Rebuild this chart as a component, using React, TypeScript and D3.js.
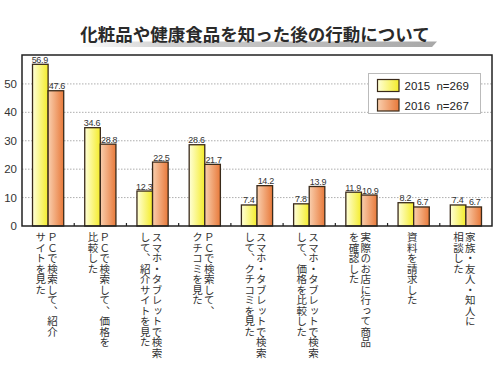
import React from "react";
import * as d3 from "d3";

const categories: string[][] = [
  ["ＰＣで検索して、紹介", "サイトを見た"],
  ["ＰＣで検索して、価格を", "比較した"],
  ["スマホ・タブレットで検索", "して、紹介サイトを見た"],
  ["ＰＣで検索して、", "クチコミを見た"],
  ["スマホ・タブレットで検索", "して、クチコミを見た"],
  ["スマホ・タブレットで検索", "して、価格を比較した"],
  ["実際のお店に行って商品", "を確認した"],
  ["資料を請求した"],
  ["家族・友人・知人に", "相談した"],
];
const values2015 = [56.9, 34.6, 12.3, 28.6, 7.4, 7.8, 11.9, 8.2, 7.4];
const values2016 = [47.6, 28.8, 22.5, 21.7, 14.2, 13.9, 10.9, 6.7, 6.7];
const seriesNames = ["2015  n=269", "2016  n=267"];
const yTicks = [0, 10, 20, 30, 40, 50];
const title = "化粧品や健康食品を知った後の行動について";

const W = 500, H = 375;
const left = 22, right = 492, top = 55, bottom = 226;

export default function App() {
  const x = d3.scaleBand<number>().domain(d3.range(categories.length)).range([left, right]).padding(0);
  const y = d3.scaleLinear().domain([0, 60]).range([bottom, top + 0.5]);
  const barW = 15.6;
  const series = [values2015, values2016];
  const jp = "'Noto Sans CJK JP', sans-serif";
  const num = "'Liberation Sans', Arial, sans-serif";
  return (
    <svg width={W} height={H} style={{ position: "absolute", left: 0, top: 0 }}>
      <defs>
        <linearGradient id="g15" x1="0" x2="1" y1="0" y2="0">
          <stop offset="0" stopColor="#ffffd8" />
          <stop offset="1" stopColor="#f4ec2a" />
        </linearGradient>
        <linearGradient id="g16" x1="0" x2="1" y1="0" y2="0">
          <stop offset="0" stopColor="#f9cfae" />
          <stop offset="1" stopColor="#e8793a" />
        </linearGradient>
        <linearGradient id="swoosh" x1="0" x2="1" y1="0" y2="0">
          <stop offset="0" stopColor="#ffffff" />
          <stop offset="0.25" stopColor="#cfcfcf" />
          <stop offset="1" stopColor="#a8a8a8" />
        </linearGradient>
      </defs>
      <rect width={W} height={H} fill="#fff" />
      {/* title */}
      <path d="M78,47 L432,47 L437,41.5 L90,41.5 Z" fill="url(#swoosh)" />
      <text x={255} y={41} textAnchor="middle" fontFamily={jp} fontWeight="bold" fontSize={17.5} fill="#2a2a2a">
        {title}
      </text>
      {/* grid */}
      {yTicks.filter((t) => t > 0).map((t) => (
        <line key={t} x1={left} x2={right} y1={y(t)} y2={y(t)} stroke="#999" strokeWidth={0.8} strokeDasharray="1.5,1.5" />
      ))}
      {/* y labels */}
      {yTicks.map((t) => (
        <text key={t} x={17} y={y(t) + 4} textAnchor="end" fontFamily={num} fontSize={11.5} fill="#333">
          {t}
        </text>
      ))}
      {/* legend */}
      <rect x={368.5} y={73.5} width={112} height={40} fill="#fff" stroke="#bbb" strokeWidth={1} />
      {seriesNames.map((s, i) => (
        <g key={s}>
          <rect x={377.5} y={79.5 + i * 19.5} width={21.5} height={12} fill={i === 0 ? "url(#g15)" : "url(#g16)"} stroke="#3a2a1a" strokeWidth={1.2} />
          <text x={404.5} y={90 + i * 19.5} fontFamily={num} fontSize={11.5} fill="#222" style={{ whiteSpace: "pre" }}>
            {s}
          </text>
        </g>
      ))}
      {/* bars */}
      {series.map((vals, si) =>
        vals.map((v, i) => {
          const cx = (x(i) as number) + x.bandwidth() / 2;
          const bx = cx - barW + si * barW;
          return (
            <g key={`${si}-${i}`}>
              <rect x={bx} y={y(v)} width={barW} height={bottom - y(v)} fill={si === 0 ? "url(#g15)" : "url(#g16)"} stroke="#3a2a1a" strokeWidth={1.3} />
              <text x={bx + barW / 2 + (si === 1 ? 1 : -0.5)} y={y(v) - 1.5} textAnchor="middle" fontFamily={num} fontSize={9} letterSpacing={-0.3} fill="#333">
                {v.toFixed(1)}
              </text>
            </g>
          );
        })
      )}
      {/* tick marks at boundaries */}
      {d3.range(1, categories.length).map((i) => (
        <line key={i} x1={x(i) as number} x2={x(i) as number} y1={bottom} y2={bottom - 3} stroke="#222" strokeWidth={1.2} />
      ))}
      {/* frame */}
      <rect x={left} y={top} width={right - left} height={bottom - top} fill="none" stroke="#222" strokeWidth={1.5} />
      {/* category labels */}
      {categories.map((lines, i) => {
        const cx = (x(i) as number) + x.bandwidth() / 2 - 1.5;
        const n = lines.length;
        const sp = 11.7;
        return lines.map((ln, j) => {
          const colX = cx + ((n - 1) / 2 - j) * sp;
          return (
            <text key={`${i}-${j}`} x={colX} y={232} fontFamily={jp} fontSize={10.5} fill="#333" style={{ writingMode: "vertical-rl" as any }}>
              {ln}
            </text>
          );
        });
      })}
    </svg>
  );
}
